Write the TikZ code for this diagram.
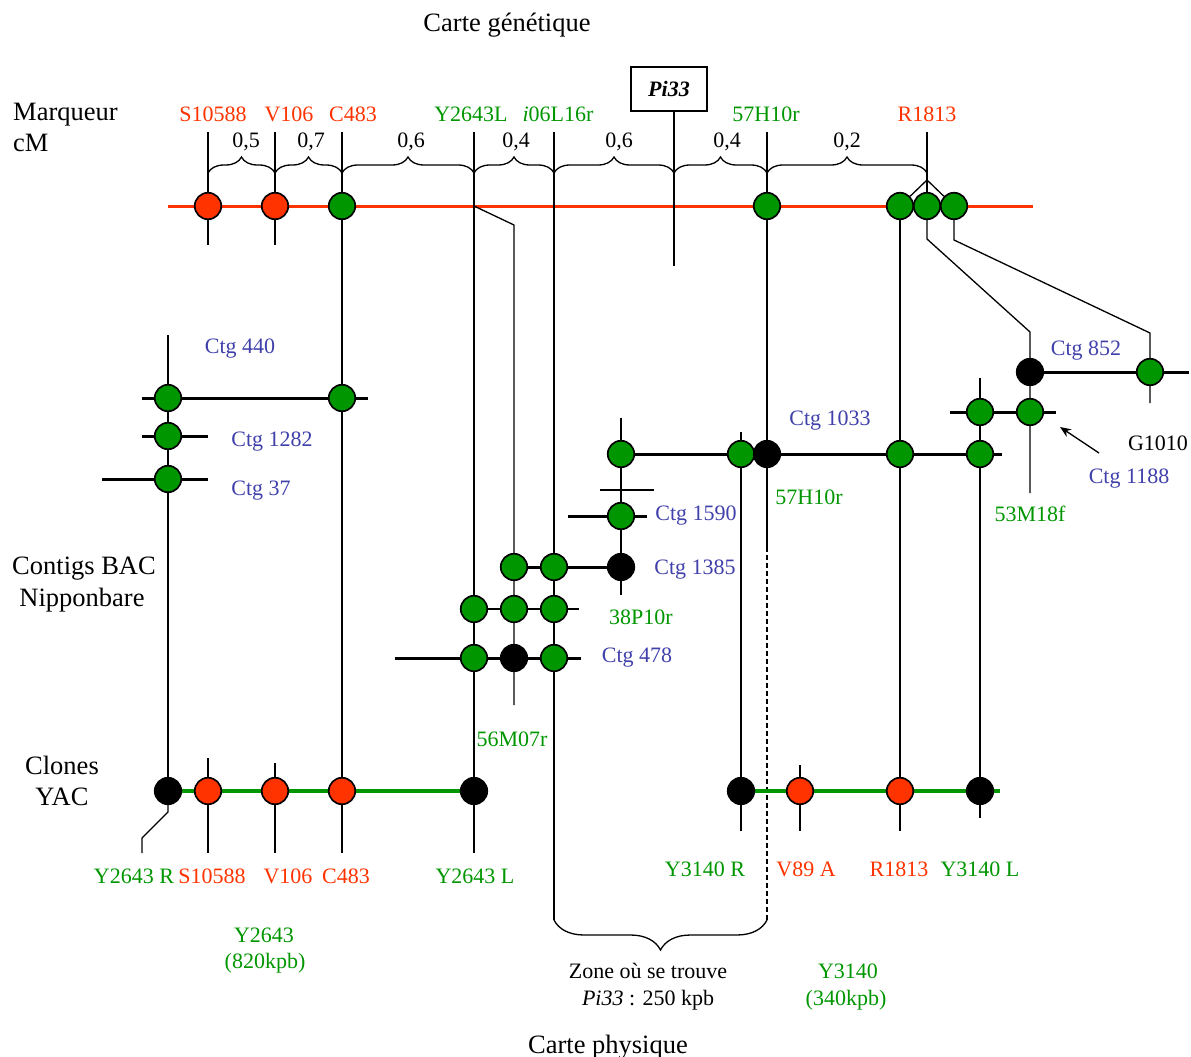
\documentclass[tikz,border=0pt]{standalone}
\usepackage{fontspec}
\setmainfont{Liberation Serif}
\usetikzlibrary{decorations.pathreplacing,arrows.meta}
\definecolor{cred}{RGB}{255,51,0}
\definecolor{cgreen}{RGB}{0,150,0}
\definecolor{cblue}{RGB}{64,64,170}
\pgfdeclarelayer{bg}
\pgfsetlayers{bg,main}
\tikzset{
  dot/.style={circle, draw=black, line width=1.7pt, minimum size=26.5pt, inner sep=0pt},
  gdot/.style={dot, fill=cgreen},
  rdot/.style={dot, fill=cred},
  bdot/.style={dot, fill=black},
  thinline/.style={line width=1.3pt},
  ctgline/.style={line width=3pt},
  lab/.style={font=\fontsize{22}{25}\selectfont, inner sep=0pt, anchor=base},
  big/.style={font=\fontsize{26.5}{31}\selectfont, inner sep=0pt, anchor=base},
  brc/.style={decorate, decoration={brace, amplitude=16pt}, line width=1.3pt},
  grn/.style={lab, text=cgreen},
  rdl/.style={lab, text=cred},
  blu/.style={lab, text=cblue},
}
\begin{document}
\begin{tikzpicture}[x=1pt, y=-1pt]
\useasboundingbox (0,0) rectangle (1191,1057);

% ---------- genetic map nodes ----------
\node[rdot] (g1) at (208,206) {};
\node[rdot] (g2) at (275,206) {};
\node[gdot] (g3) at (342,206) {};
\node[gdot] (g4) at (767,206) {};
\node[gdot] (g5) at (900,206) {};
\node[gdot] (g6) at (927,206) {};
\node[gdot] (g7) at (954,206) {};
\coordinate (gL) at (168,206);
\coordinate (gR) at (1033,206);
\coordinate (gY) at (474,206);

\node[draw, line width=1.3pt, minimum width=76pt, minimum height=44pt, inner sep=0pt,
      font=\fontsize{22}{25}\selectfont\bfseries\itshape] (pibox) at (669,89) {Pi33};

% tick tops
\coordinate (t1) at (208,132);
\coordinate (t2) at (275,132);
\coordinate (t3) at (342,132);
\coordinate (t4) at (474,132);
\coordinate (t5) at (554,132);
\coordinate (t6) at (674,112);
\coordinate (t7) at (767,132);
\coordinate (t8) at (927,132);
% brace points
\coordinate (k1) at (208,173);
\coordinate (k2) at (275,173);
\coordinate (k3) at (342,173);
\coordinate (k4) at (474,173);
\coordinate (k5) at (554,173);
\coordinate (k6) at (674,173);
\coordinate (k7) at (767,173);
\coordinate (k8) at (927,173);

% ---------- contig nodes ----------
\node[gdot] (c440a) at (168,398) {};
\node[gdot] (c440b) at (342,398) {};
\node[gdot] (c1282) at (168,436) {};
\node[gdot] (c37) at (168,479) {};

\node[gdot] (c1033a) at (621,454) {};
\node[gdot] (c1033b) at (741,454) {};
\node[bdot] (c1033c) at (767,454) {};
\node[gdot] (c1033d) at (900,454) {};
\node[gdot] (c1033e) at (980,454) {};

\node[gdot] (c1590) at (621,516) {};

\node[gdot] (c1385a) at (514,567) {};
\node[gdot] (c1385b) at (554,567) {};
\node[bdot] (c1385c) at (621,567) {};

\node[gdot] (r38a) at (474,609) {};
\node[gdot] (r38b) at (514,609) {};
\node[gdot] (r38c) at (554,609) {};

\node[gdot] (c478a) at (474,658) {};
\node[bdot] (c478b) at (514,658) {};
\node[gdot] (c478c) at (554,658) {};

\node[bdot] (c852a) at (1030,372) {};
\node[gdot] (c852b) at (1150,372) {};

\node[gdot] (c1188a) at (980,412) {};
\node[gdot] (c1188b) at (1030,412) {};

% ---------- YAC nodes ----------
\node[bdot] (ya1) at (168,791) {};
\node[rdot] (ya2) at (208,791) {};
\node[rdot] (ya3) at (275,791) {};
\node[rdot] (ya4) at (342,791) {};
\node[bdot] (ya5) at (474,791) {};

\node[bdot] (yb1) at (741,791) {};
\node[rdot] (yb2) at (800,791) {};
\node[rdot] (yb3) at (900,791) {};
\node[bdot] (yb4) at (980,791) {};

% ---------- lines (background) ----------
\begin{pgfonlayer}{bg}
  % genetic map
  \draw[cred, line width=3pt] (gL) -- (gR);
  \draw[thinline] (t1) -- (g1) -- (208,245);
  \draw[thinline] (t2) -- (g2) -- (275,245);
  \draw[thinline] (t3) -- (g3) -- (c440b) -- (ya4) -- (342,853);
  \draw[thinline] (t4) -- (gY) -- (r38a) -- (c478a) -- (ya5) -- (474,853);
  \draw[thinline] (t5) -- (c1385b) -- (r38c) -- (c478c) -- (554,920);
  \draw[thinline] (t6) -- (674,266);
  \draw[thinline] (t7) -- (g4) -- (c1033c) -- (767,547);
  \draw[thinline, dashed, dash pattern=on 5pt off 3pt] (767,547) -- (767,920);
  \coordinate (r0) at (927,180);
  \draw[thinline] (t8) -- (r0);
  \draw[thinline] (r0) -- (g5);
  \draw[thinline] (r0) -- (g6);
  \draw[thinline] (r0) -- (g7);
  \draw[thinline] (g5) -- (c1033d) -- (yb3) -- (900,831);
  \draw[thinline] (g6) -- (927,239) -- (1030,332) -- (c852a) -- (c1188b) -- (1030,493);
  \draw[thinline] (g7) -- (954,240) -- (1150,333) -- (c852b) -- (1150,403);
  \draw[thinline] (gY) -- (514,225) -- (c1385a) -- (r38b) -- (c478b) -- (514,705);

  % braces
  \draw[brc] (k1) -- (k2);
  \draw[brc] (k2) -- (k3);
  \draw[brc] (k3) -- (k4);
  \draw[brc] (k4) -- (k5);
  \draw[brc] (k5) -- (k6);
  \draw[brc] (k6) -- (k7);
  \draw[brc] (k7) -- (k8);
  \draw[thinline, decorate, decoration={brace, amplitude=30pt}] (767,920) -- (554,920);

  % contigs
  \draw[ctgline] (142,398) -- (368,398);
  \draw[ctgline] (142,436) -- (208,436);
  \draw[ctgline] (102,479) -- (208,479);
  \draw[thinline] (168,335) -- (c440a) -- (c1282) -- (c37) -- (ya1);
  \draw[thinline] (ya1) -- (168,812) -- (142,838) -- (142,853);

  \draw[ctgline] (c1033a) -- (1002,454);
  \draw[thinline] (621,418) -- (c1033a) -- (c1590) -- (c1385c) -- (621,595);
  \draw[thinline] (600,490) -- (654,490);
  \draw[ctgline] (568,516) -- (647,516);
  \draw[thinline] (741,432) -- (c1033b) -- (yb1) -- (741,831);
  \draw[thinline] (980,378) -- (c1188a) -- (c1033e) -- (yb4) -- (980,818);

  \draw[ctgline] (c1385a) -- (c1385c);
  \draw[thinline] (r38a) -- (579,609);
  \draw[ctgline] (395,658) -- (581,658);

  \draw[ctgline] (c852a) -- (1189,372);
  \draw[ctgline] (950,412) -- (1056,412);

  % YAC
  \draw[cgreen, line width=4pt] (ya1) -- (ya5);
  \draw[thinline] (208,758) -- (ya2) -- (208,853);
  \draw[thinline] (275,763) -- (ya3) -- (275,853);
  \draw[cgreen, line width=4pt] (yb1) -- (1000,791);
  \draw[thinline] (800,765) -- (yb2) -- (800,831);
\end{pgfonlayer}

% arrow
\coordinate (ar1) at (1099,453);
\coordinate (ar2) at (1060,427);
\draw[thinline, -{Stealth[length=11pt, width=9pt]}] (ar1) -- (ar2);

% ---------- labels ----------
\node[big] (tgen) at (507,32) {Carte génétique};
\node[big, anchor=base west] (tmarq) at (13,120) {Marqueur};
\node[big, anchor=base west] (tcm) at (13,151) {cM};
\node[big] (tcon1) at (84,574) {Contigs BAC};
\node[big] (tcon2) at (82,606) {Nipponbare};
\node[big] (tclo1) at (62,774) {Clones};
\node[big] (tclo2) at (62,805) {YAC};
\node[big] (tphys) at (608,1053) {Carte physique};

\node[rdl] (m1) at (213,121) {S10588};
\node[rdl] (m2) at (289,121) {V106};
\node[rdl] (m3) at (353,121) {C483};
\node[grn] (m4) at (471,121) {Y2643L};
\node[grn] (m5) at (558,121) {{\itshape i}06L16r};
\node[grn] (m6) at (766,121) {57H10r};
\node[rdl] (m7) at (927,121) {R1813};

\node[lab] (d1) at (246,147) {0,5};
\node[lab] (d2) at (311,147) {0,7};
\node[lab] (d3) at (411,147) {0,6};
\node[lab] (d4) at (516,147) {0,4};
\node[lab] (d5) at (619,147) {0,6};
\node[lab] (d6) at (727,147) {0,4};
\node[lab] (d7) at (847,147) {0,2};

\node[blu] (l440) at (240,353) {Ctg 440};
\node[blu] (l1282) at (272,446) {Ctg 1282};
\node[blu] (l37) at (261,495) {Ctg 37};
\node[blu] (l1033) at (830,425) {Ctg 1033};
\node[grn] (l57) at (809,504) {57H10r};
\node[blu] (l1590) at (696,520) {Ctg 1590};
\node[blu] (l1385) at (695,574) {Ctg 1385};
\node[grn] (l38) at (641,624) {38P10r};
\node[blu] (l478) at (637,662) {Ctg 478};
\node[grn] (l56) at (512,746) {56M07r};
\node[blu] (l852) at (1086,355) {Ctg 852};
\node[lab] (lg1010) at (1158,450) {G1010};
\node[blu] (l1188) at (1129,483) {Ctg 1188};
\node[grn] (l53) at (1030,521) {53M18f};

\node[grn] (y1) at (134,883) {Y2643 R};
\node[rdl] (y2) at (212,883) {S10588};
\node[rdl] (y3) at (288,883) {V106};
\node[rdl] (y4) at (346,883) {C483};
\node[grn] (y5) at (475,883) {Y2643 L};
\node[grn] (y6) at (264,942) {Y2643};
\node[grn] (y7) at (265,968) {(820kpb)};

\node[grn] (z1) at (705,876) {Y3140 R};
\node[rdl] (z2) at (806,876) {V89 A};
\node[rdl] (z3) at (899,876) {R1813};
\node[grn] (z4) at (980,876) {Y3140 L};
\node[grn] (z5) at (848,978) {Y3140};
\node[grn] (z6) at (846,1005) {(340kpb)};
\node[lab] (zone1) at (648,978) {Zone où se trouve};
\node[lab] (zone2) at (648,1005) {{\itshape Pi33} : 250 kpb};
\end{tikzpicture}
\end{document}
